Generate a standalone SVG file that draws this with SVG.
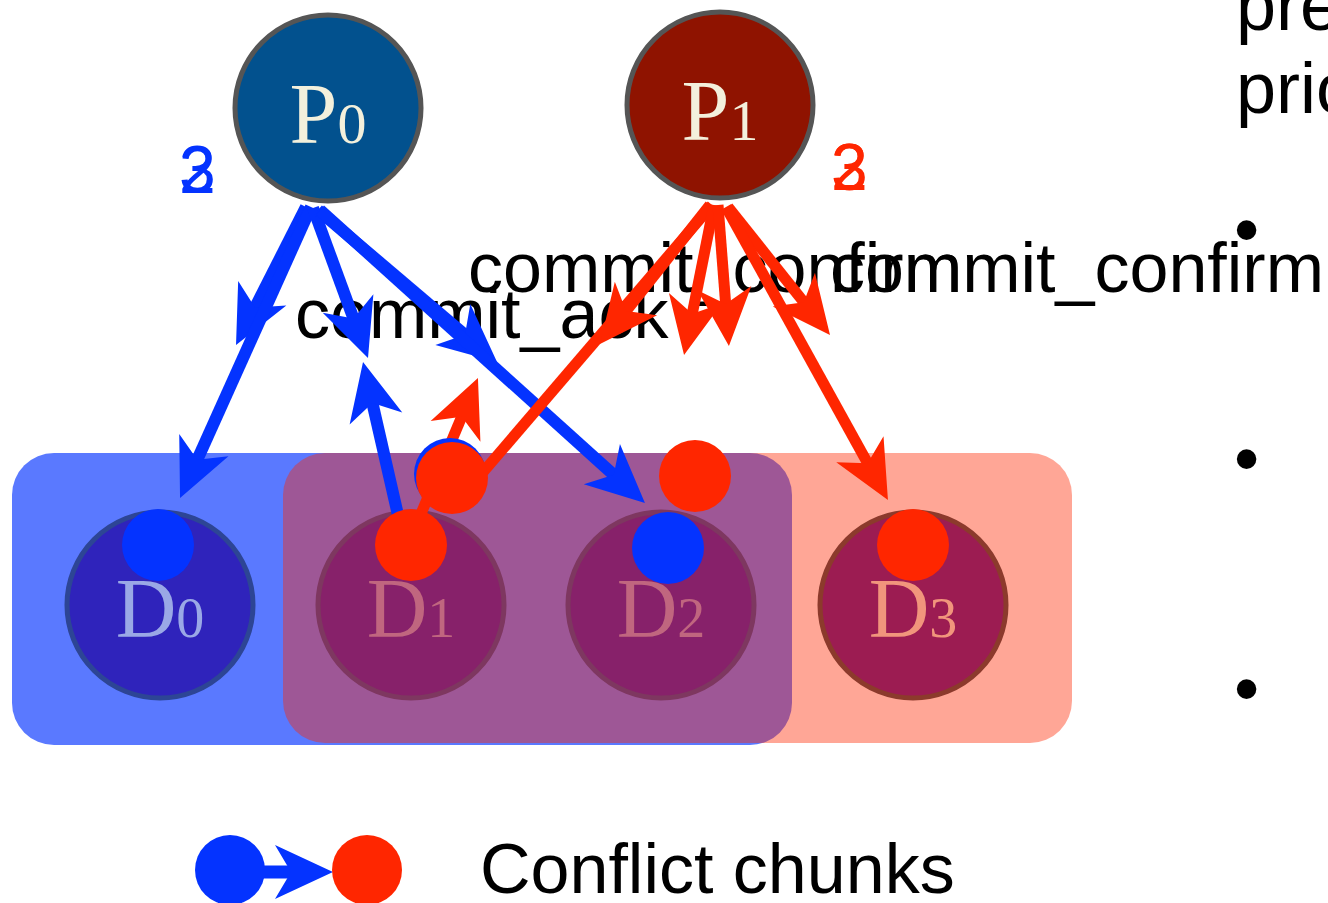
<svg xmlns="http://www.w3.org/2000/svg" width="1328" height="903" viewBox="0 0 1328 903">
<defs>
<style>
.bl{stroke:#0433ff;stroke-width:12;fill:none}
.rd{stroke:#ff2600;stroke-width:11;fill:none}
.lbl{font-family:"Liberation Sans",Arial,sans-serif;font-size:70px;fill:#000}
.num{font-family:"Liberation Sans",Arial,sans-serif;font-size:66px}
.serif{font-family:"Liberation Serif","Times New Roman",serif}
.side{font-family:"Liberation Sans",Arial,sans-serif;font-size:72px;fill:#000}
</style>
<marker id="ab" markerUnits="userSpaceOnUse" overflow="visible" orient="auto" refX="0" refY="0" markerWidth="1" markerHeight="1">
<path d="M34,0 L-24,-27 L-8,0 L-24,27 Z" fill="#0433ff"/>
</marker>
<marker id="ar" markerUnits="userSpaceOnUse" overflow="visible" orient="auto" refX="0" refY="0" markerWidth="1" markerHeight="1">
<path d="M34,0 L-24,-27 L-8,0 L-24,27 Z" fill="#ff2600"/>
</marker>
</defs>
<rect width="1328" height="903" fill="#ffffff"/>

<g id="groups">
<rect x="12" y="453" width="780" height="292" rx="42" fill="#0433ff" fill-opacity="0.66"/>
<rect x="283" y="453" width="789" height="290" rx="42" fill="#ff2600" fill-opacity="0.41"/>
</g>

<g id="D0">
<circle cx="160" cy="605" r="93" fill="#2f23bb" stroke="#2d4595" stroke-width="5"/>
<text x="160" y="637" text-anchor="middle" class="serif" font-size="84" fill="#9aa8e6">D<tspan font-size="56">0</tspan></text>
</g>
<g id="D1">
<circle cx="411" cy="605" r="93" fill="#87216a" stroke="#7e3760" stroke-width="5"/>
<text x="411" y="637" text-anchor="middle" class="serif" font-size="84" fill="#c0667f">D<tspan font-size="56">1</tspan></text>
</g>
<g id="D2">
<circle cx="661" cy="605" r="93" fill="#87216a" stroke="#7e3760" stroke-width="5"/>
<text x="661" y="637" text-anchor="middle" class="serif" font-size="84" fill="#c0667f">D<tspan font-size="56">2</tspan></text>
</g>
<g id="D3">
<circle cx="913" cy="605" r="93" fill="#9c1c52" stroke="#8c3a2c" stroke-width="5"/>
<text x="913" y="637" text-anchor="middle" class="serif" font-size="84" fill="#f1957c">D<tspan font-size="56">3</tspan></text>
</g>

<g id="labels">
<text x="295" y="338" class="lbl">commit_ack</text>
<text x="468" y="292" class="lbl">commit_confirm</text>
<text x="830" y="292" class="lbl">commit_confirm</text>
</g>

<g id="connectors">
<line class="bl" x1="306" y1="207" x2="251.4" y2="314.7" marker-end="url(#ab)"/>
<line class="bl" x1="311" y1="207" x2="194" y2="467" marker-end="url(#ab)"/>
<line class="bl" x1="313" y1="208" x2="356.3" y2="326.1" marker-end="url(#ab)"/>
<line class="bl" x1="398" y1="515" x2="370.6" y2="395.2" marker-end="url(#ab)"/>
<line class="bl" x1="318" y1="210" x2="471.1" y2="340" marker-end="url(#ab)"/>
<line class="bl" x1="320" y1="210" x2="619.7" y2="480.2" marker-end="url(#ab)"/>
<line class="rd" x1="712" y1="205" x2="478" y2="478"/>
<line class="rd" x1="710" y1="205" x2="621.1" y2="317.3" marker-end="url(#ar)"/>
<line class="rd" x1="410" y1="540" x2="464.8" y2="409.3" marker-end="url(#ar)"/>
<line class="rd" x1="714" y1="205" x2="690.7" y2="321.7" marker-end="url(#ar)"/>
<line class="rd" x1="718" y1="205" x2="726.3" y2="312.1" marker-end="url(#ar)"/>
<line class="rd" x1="728" y1="207" x2="808.8" y2="308.4" marker-end="url(#ar)"/>
<line class="rd" x1="726" y1="207" x2="871.5" y2="470.2" marker-end="url(#ar)"/>
</g>

<g id="chunks">
<circle cx="158" cy="545" r="36" fill="#0433ff"/>
<circle cx="450" cy="474" r="36" fill="#0433ff"/>
<circle cx="452" cy="478" r="36" fill="#ff2600"/>
<circle cx="411" cy="545" r="36" fill="#ff2600"/>
<circle cx="695" cy="476" r="36" fill="#ff2600"/>
<circle cx="668" cy="548" r="36" fill="#0433ff"/>
<circle cx="913" cy="545" r="36" fill="#ff2600"/>
</g>

<g id="P0">
<circle cx="328" cy="108" r="93" fill="#02518e" stroke="#555555" stroke-width="5"/>
<text x="328" y="143" text-anchor="middle" class="serif" font-size="86" fill="#f3f0dc">P<tspan font-size="58">0</tspan></text>
</g>
<g id="P1">
<circle cx="720" cy="105" r="93" fill="#8f1300" stroke="#555555" stroke-width="5"/>
<text x="720" y="140" text-anchor="middle" class="serif" font-size="86" fill="#f3f0dc">P<tspan font-size="58">1</tspan></text>
</g>

<g id="counts">
<text x="179" y="192" class="num" fill="#0433ff">3</text>
<text x="179" y="193" class="num" fill="#0433ff">2</text>
<text x="831" y="190" class="num" fill="#ff2600">3</text>
<text x="831" y="190" class="num" fill="#ff2600">2</text>
</g>

<g id="legend">
<circle cx="230" cy="870" r="35" fill="#0433ff"/>
<line x1="262" y1="872" x2="299" y2="872" stroke="#0433ff" stroke-width="13" marker-end="url(#ab)"/>
<circle cx="367" cy="870" r="35" fill="#ff2600"/>
<text x="480" y="893" class="lbl">Conflict chunks</text>
</g>

<g id="side">
<text x="1236" y="30" class="side">pre</text>
<text x="1236" y="113" class="side">prio</text>
<text x="1234" y="254" class="side">•</text>
<text x="1234" y="483" class="side">•</text>
<text x="1234" y="713" class="side">•</text>
</g>
</svg>
